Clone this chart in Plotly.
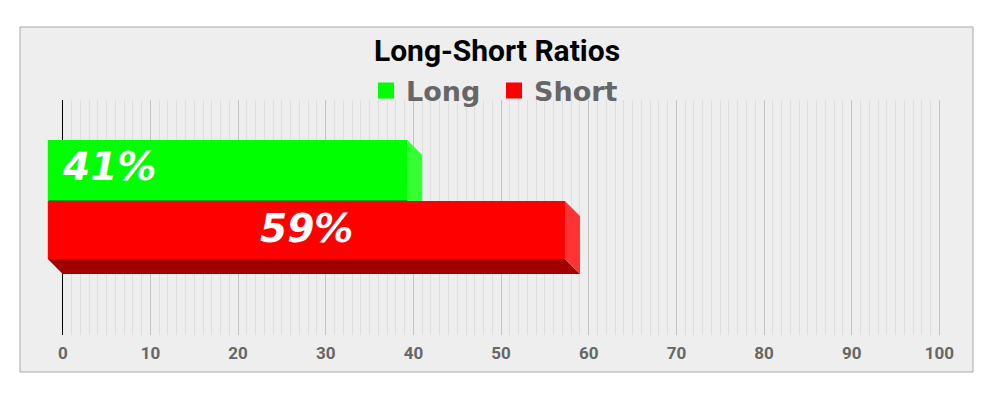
import plotly.graph_objects as go

# ---- data ----
series = ["Long", "Short"]
values = [41, 59]
value_labels = ["41%", "59%"]
front_colors = ["#00ff00", "#ff0000"]
side_colors = ["#33ff33", "#ff3333"]
bottom_colors = ["#00a000", "#a00000"]
x_ticks = list(range(0, 101, 10))
minor_ticks = [t for t in range(1, 100) if t % 10]

# ---- geometry (pixel-based layout) ----
W, H = 1000, 399
ml, mt, mb = 47, 100, 64
x_min, x_max = -1.8, 100.3
px_per_unit = 8.77
mr = W - ml - round((x_max - x_min) * px_per_unit)
depth_px = 15
dx = depth_px / px_per_unit        # depth offset in x data units
dy = depth_px                      # y axis is in pixel units (reversed)
bar_y0 = [40, 101]                 # top of front faces (y units = px below plot top)
bar_y1 = [100, 159]                # bottom of front faces


def poly(xs, ys, color):
    return go.Scatter(x=xs, y=ys, fill="toself", fillcolor=color, mode="lines",
                      line=dict(width=0, color=color), showlegend=False,
                      hoverinfo="skip")


fig = go.Figure()

for i, name in enumerate(series):
    v = values[i]
    y0, y1 = bar_y0[i], bar_y1[i]
    # bottom face
    fig.add_trace(poly([-dx, v - dx, v, 0, -dx], [y1, y1, y1 + dy, y1 + dy, y1],
                       bottom_colors[i]))
    # side face
    fig.add_trace(poly([v - dx, v, v, v - dx, v - dx], [y0, y0 + dy, y1 + dy, y1, y0],
                       side_colors[i]))
    # front face
    fig.add_trace(poly([-dx, v - dx, v - dx, -dx, -dx], [y0, y0, y1, y1, y0],
                       front_colors[i]))

# legend entries
for i, name in enumerate(series):
    fig.add_trace(go.Scatter(
        x=[None], y=[None], mode="markers", name=name,
        marker=dict(symbol="square", size=18, color=front_colors[i])))

label_font = dict(family="DejaVu Sans", size=39, color="white",
                  weight="bold", style="italic")
# value labels
fig.add_annotation(x=-0.3, y=(bar_y0[0] + bar_y1[0]) / 2 - 3.5, text=value_labels[0],
                   xanchor="left", yanchor="middle", showarrow=False, font=label_font)
fig.add_annotation(x=values[1] / 2 - dx, y=(bar_y0[1] + bar_y1[1]) / 2 - 2, text=value_labels[1],
                   xanchor="center", yanchor="middle", showarrow=False, font=label_font)

plot_h = H - mt - mb
plot_w = W - ml - mr
# framed chart background
fig.add_shape(type="rect", xref="paper", yref="paper", layer="below",
              x0=(20 - ml) / plot_w, x1=(973 - ml) / plot_w,
              y0=(mt + plot_h - 372) / plot_h, y1=(mt + plot_h - 27) / plot_h,
              fillcolor="#eeeeee", line=dict(color="#a8a8a8", width=1))

fig.update_layout(
    width=W, height=H,
    margin=dict(l=ml, r=mr, t=mt, b=mb, pad=0, autoexpand=False),
    paper_bgcolor="white", plot_bgcolor="rgba(0,0,0,0)",
    title=dict(text="Long-Short Ratios", x=0.497, xanchor="center",
               y=1 - 50 / H, yanchor="middle",
               font=dict(family="Roboto", size=30, color="black", weight="bold")),
    legend=dict(orientation="h", x=0.366, xanchor="left", xref="container",
                y=(mt + plot_h - 91) / plot_h, yanchor="middle",
                entrywidth=83, entrywidthmode="pixels",
                bgcolor="rgba(0,0,0,0)",
                font=dict(family="DejaVu Sans", size=27, color="#666666", weight="bold")),
    xaxis=dict(range=[x_min, x_max], tickvals=x_ticks, ticks="",
               showgrid=True, gridcolor="#c4c4c4", gridwidth=1,
               minor=dict(tickvals=minor_ticks, showgrid=True, gridcolor="#dddddd", gridwidth=1),
               zeroline=True, zerolinecolor="#000000", zerolinewidth=1,
               showline=False, ticklabelstandoff=6,
               tickfont=dict(family="Roboto", size=17, color="#666666", weight="bold"),
               fixedrange=True),
    yaxis=dict(range=[plot_h, 0], showgrid=False, zeroline=False,
               showticklabels=False, ticks="", fixedrange=True),
    showlegend=True,
)

fig.write_html("out.html")
